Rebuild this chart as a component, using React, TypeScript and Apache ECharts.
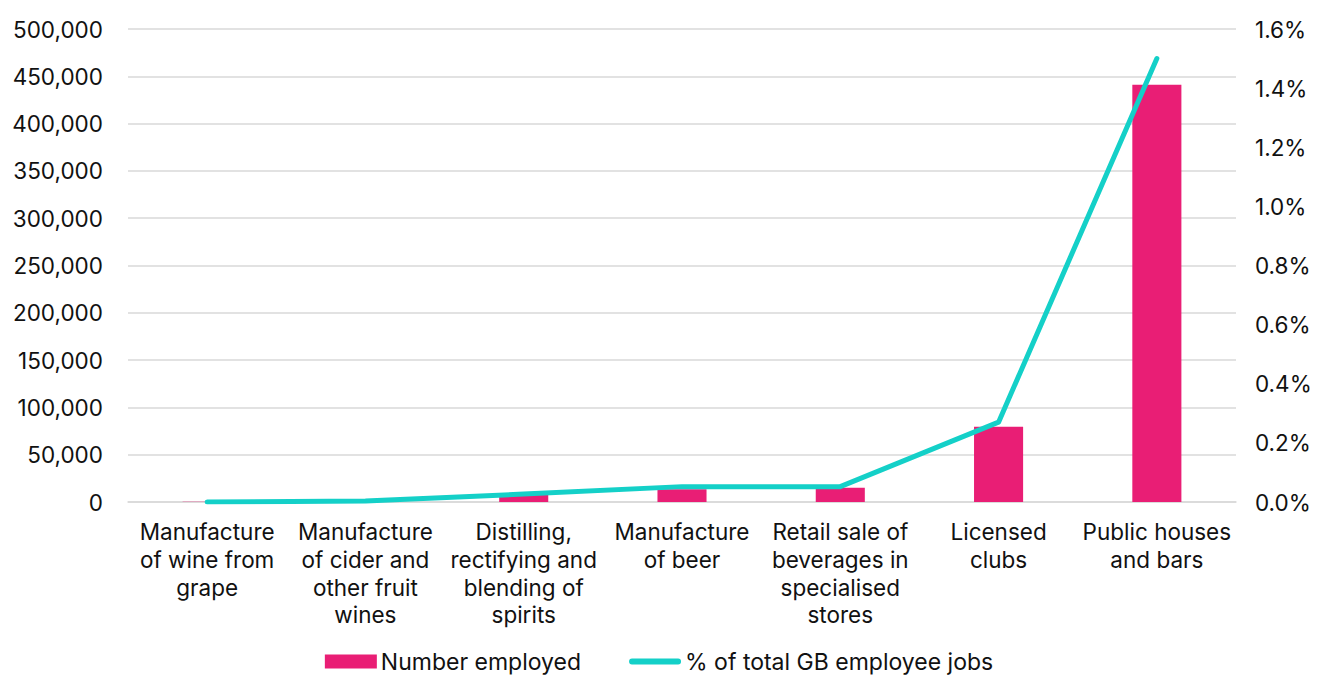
import React, { useEffect, useRef } from "react";
import * as echarts from "echarts";

const categories = [
  "Manufacture\nof wine from\ngrape",
  "Manufacture\nof cider and\nother fruit\nwines",
  "Distilling,\nrectifying and\nblending of\nspirits",
  "Manufacture\nof beer",
  "Retail sale of\nbeverages in\nspecialised\nstores",
  "Licensed\nclubs",
  "Public houses\nand bars",
];
const numberEmployed = [300, 1000, 7500, 13500, 15000, 79500, 441000];
const pctOfJobs = [0.0, 0.003, 0.027, 0.052, 0.052, 0.27, 1.5];

const FONT = "Inter, 'Noto Sans', sans-serif";
const FS = 22.5;
const LINE_ICON =
  "path://M0,0 h0.05 v0.05 h-0.05 Z M3,4 H50 A3,3 0 0 1 50,10 H3 A3,3 0 0 1 3,4 Z M52.95,14 h0.05 v-0.05 h-0.05 Z";

export default function App() {
  const ref = useRef<HTMLDivElement>(null);
  useEffect(() => {
    document.body.style.margin = "0";
    const chart = echarts.init(ref.current!, null, { renderer: "svg" });
    chart.setOption({
      animation: false,
      textStyle: { fontFamily: FONT },
      grid: { left: 128, right: 82, top: 29, bottom: 175 },
      legend: {
        top: 645,
        left: "center",
        itemWidth: 52,
        itemHeight: 14,
        itemGap: 48,
        textStyle: { fontSize: 23, color: "#111", fontFamily: FONT, padding: [0, 0, 0, -1] },
        data: [
          { name: "Number employed", icon: "rect" },
          {
            name: "% of total GB employee jobs",
            icon: LINE_ICON,
            itemStyle: { color: "#14D0C8" },
          },
        ],
      },
      xAxis: {
        type: "category",
        data: categories,
        axisTick: { show: false },
        axisLine: { lineStyle: { color: "#d9d9d9", width: 1.5 } },
        axisLabel: {
          interval: 0,
          color: "#111",
          fontSize: FS,
          lineHeight: 27.7,
          margin: 16,
          fontFamily: FONT,
        },
      },
      yAxis: [
        {
          type: "value",
          min: 0,
          max: 500000,
          interval: 50000,
          axisLabel: {
            color: "#111",
            fontSize: FS,
            margin: 25,
            fontFamily: FONT,
            formatter: (v: number) => v.toLocaleString("en-US"),
          },
          splitLine: { lineStyle: { color: "#d9d9d9", width: 1.5 } },
        },
        {
          type: "value",
          min: 0,
          max: 1.6,
          interval: 0.2,
          axisLabel: {
            color: "#111",
            fontSize: FS,
            margin: 19,
            fontFamily: FONT,
            formatter: (v: number) => v.toFixed(1) + "%",
          },
          splitLine: { show: false },
        },
      ],
      series: [
        {
          name: "Number employed",
          type: "bar",
          data: numberEmployed,
          barWidth: "31%",
          itemStyle: { color: "#E91E75" },
          yAxisIndex: 0,
        },
        {
          name: "% of total GB employee jobs",
          type: "line",
          data: pctOfJobs,
          yAxisIndex: 1,
          symbol: "none",
          itemStyle: { color: "#14D0C8" },
          lineStyle: { color: "#14D0C8", width: 5, cap: "round", join: "round" },
        },
      ],
    });
    return () => chart.dispose();
  }, []);
  return <div ref={ref} style={{ width: 1318, height: 677 }} />;
}
